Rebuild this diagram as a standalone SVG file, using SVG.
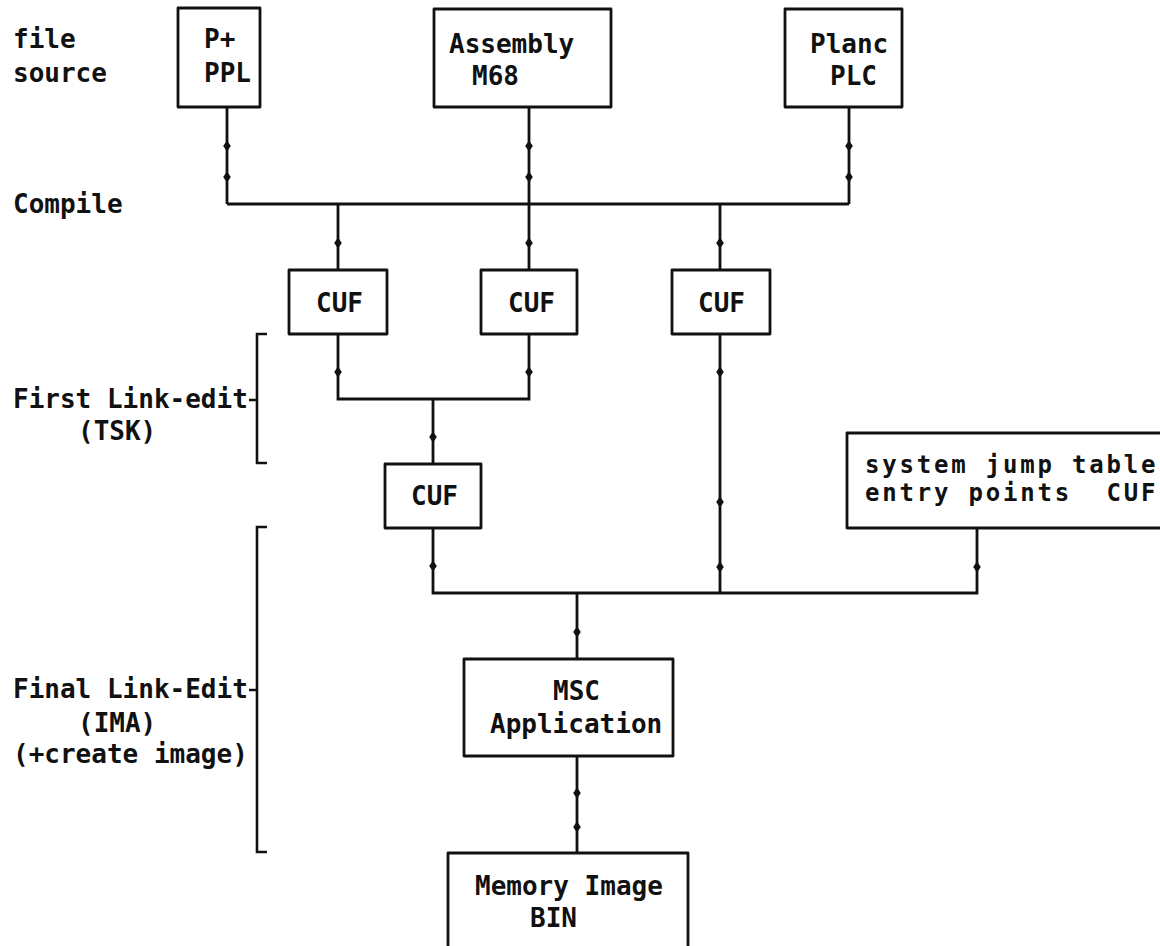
<svg xmlns="http://www.w3.org/2000/svg" xmlns:xlink="http://www.w3.org/1999/xlink" width="1160" height="946" viewBox="0 0 1160 946">
  <style>
    .bg { fill: #ffffff; }
    .box { fill: #ffffff; stroke: #111111; stroke-width: 2.8; stroke-linejoin: round; }
    .wire { fill: none; stroke: #111111; stroke-width: 2.8; stroke-linejoin: miter; }
    .brk { fill: none; stroke: #111111; stroke-width: 2.6; }
    .dia { fill: #111111; stroke: none; }
    text { font-family: "DejaVu Sans Mono", "Liberation Mono", monospace; font-size: 26px; font-weight: bold; fill: #111111; white-space: pre; }
    .wide { font-size: 24px; letter-spacing: 2.8px; }
  </style>
  <defs>
    <path id="dia" class="dia" d="M0,-5.5 L3.8,0 L0,5.5 L-3.8,0 Z"/>
  </defs>
  <rect class="bg" x="0" y="0" width="1160" height="946"/>

  <!-- stage labels and brackets -->
  <g id="stage-labels">
    <text x="13" y="48">file</text>
    <text x="13" y="82">source</text>
    <text x="13" y="213">Compile</text>
    <text x="13" y="408">First Link-edit</text>
    <text x="78" y="440">(TSK)</text>
    <text x="13" y="698">Final Link-Edit</text>
    <text x="78" y="732">(IMA)</text>
    <text x="13" y="763">(+create image)</text>
    <path class="brk" d="M267,334 H257 V463 H267 M249,400 H257"/>
    <path class="brk" d="M267,527 H257 V852 H267 M249,690 H257"/>
  </g>

  <!-- connectors -->
  <g id="connectors">
    <path class="wire" d="M227,107 V204 M529,107 V204 M849,107 V204 M227,204 H849"/>
    <path class="wire" d="M338,204 V270 M529,204 V270 M720,204 V270"/>
    <path class="wire" d="M338,334 V399 H529 V334 M433,399 V464"/>
    <path class="wire" d="M720,334 V593"/>
    <path class="wire" d="M433,528 V593 H977 V528"/>
    <path class="wire" d="M577,593 V659 M577,756 V853"/>
    <use xlink:href="#dia" x="227" y="146"/>
    <use xlink:href="#dia" x="227" y="177"/>
    <use xlink:href="#dia" x="529" y="146"/>
    <use xlink:href="#dia" x="529" y="177"/>
    <use xlink:href="#dia" x="849" y="146"/>
    <use xlink:href="#dia" x="849" y="177"/>
    <use xlink:href="#dia" x="338" y="243"/>
    <use xlink:href="#dia" x="529" y="243"/>
    <use xlink:href="#dia" x="720" y="243"/>
    <use xlink:href="#dia" x="338" y="372"/>
    <use xlink:href="#dia" x="529" y="372"/>
    <use xlink:href="#dia" x="433" y="437"/>
    <use xlink:href="#dia" x="720" y="372"/>
    <use xlink:href="#dia" x="720" y="502"/>
    <use xlink:href="#dia" x="720" y="567"/>
    <use xlink:href="#dia" x="433" y="566"/>
    <use xlink:href="#dia" x="977" y="567"/>
    <use xlink:href="#dia" x="577" y="632"/>
    <use xlink:href="#dia" x="577" y="793"/>
    <use xlink:href="#dia" x="577" y="827"/>
  </g>

  <!-- source files -->
  <g id="src-ppl">
    <rect class="box" x="178" y="8" width="82" height="99"/>
    <text x="204" y="48">P+</text>
    <text x="204" y="82">PPL</text>
  </g>
  <g id="src-m68">
    <rect class="box" x="434" y="9" width="177" height="98"/>
    <text x="449" y="53">Assembly</text>
    <text x="472" y="85">M68</text>
  </g>
  <g id="src-plc">
    <rect class="box" x="785" y="9" width="117" height="98"/>
    <text x="810" y="53">Planc</text>
    <text x="830" y="85">PLC</text>
  </g>

  <!-- compiled units -->
  <g id="cuf-1">
    <rect class="box" x="289" y="270" width="98" height="64"/>
    <text x="316" y="312">CUF</text>
  </g>
  <g id="cuf-2">
    <rect class="box" x="481" y="270" width="96" height="64"/>
    <text x="508" y="312">CUF</text>
  </g>
  <g id="cuf-3">
    <rect class="box" x="672" y="270" width="98" height="64"/>
    <text x="698" y="312">CUF</text>
  </g>
  <g id="cuf-task">
    <rect class="box" x="385" y="464" width="96" height="64"/>
    <text x="411" y="505">CUF</text>
  </g>
  <g id="sys-jump-table">
    <rect class="box" x="847" y="433" width="330" height="95"/>
    <text class="wide" x="865" y="473">system jump table</text>
    <text class="wide" x="865" y="501">entry points  CUF</text>
  </g>

  <!-- linked results -->
  <g id="msc-app">
    <rect class="box" x="464" y="659" width="209" height="97"/>
    <text x="553" y="700">MSC</text>
    <text x="490" y="733">Application</text>
  </g>
  <g id="mem-image">
    <rect class="box" x="448" y="853" width="240" height="120"/>
    <text x="475" y="895">Memory Image</text>
    <text x="530" y="927">BIN</text>
  </g>
</svg>
